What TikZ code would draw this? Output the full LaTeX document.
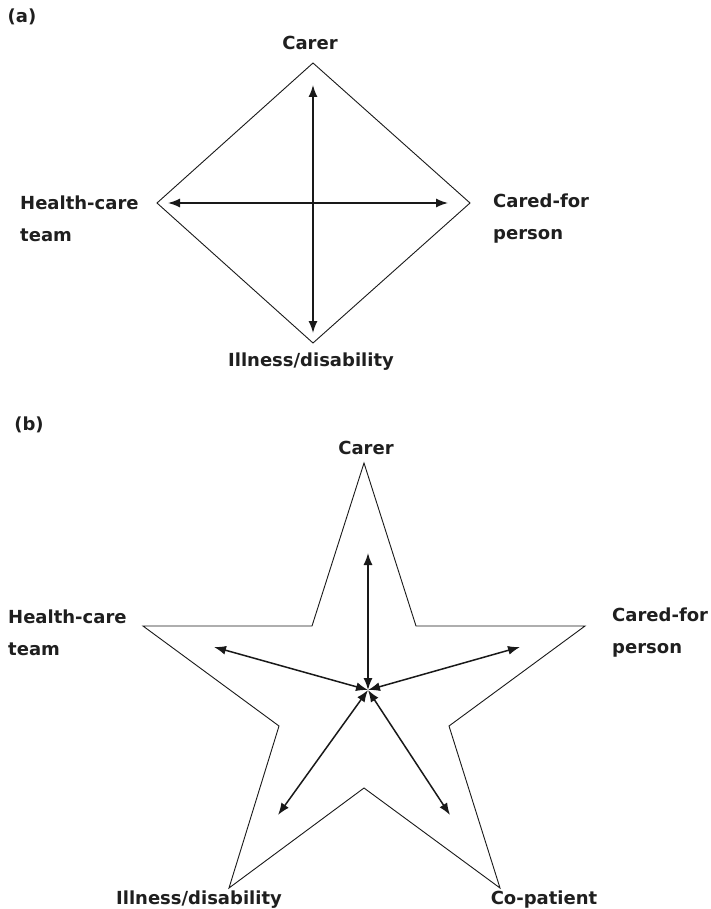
\documentclass[tikz,border=0pt]{standalone}
\usepackage{fontspec}
\setmainfont{DejaVu Sans}
\usetikzlibrary{arrows.meta}
\begin{document}
\begin{tikzpicture}[x=1pt,y=-1pt,
  lbl/.style={font=\fontsize{18}{32}\selectfont\bfseries, text=black!88, inner sep=0pt},
  outline/.style={draw=black!90, line width=0.9pt, line join=miter},
  link/.style={draw=black!90, line width=1.5pt, {Latex[length=12pt,width=9pt]}-{Latex[length=12pt,width=9pt]}}]
\useasboundingbox (0,0) rectangle (710,909);

% ---------- (a) ----------
\node[lbl] (pa) at (22,17) {(a)};
\node[lbl] (carerA) at (310,43) {Carer};
\node[lbl, anchor=west, align=left] (hctA) at (20,219) {Health-care\\team};
\node[lbl, anchor=west, align=left] (cfpA) at (493,219) {Cared-for\\person};
\node[lbl] (illA) at (311,362) {Illness/disability};

\draw[outline] (313,63) -- (470,203) -- (313,343) -- (157,203) -- cycle;

\coordinate (aT) at (313,85);
\coordinate (aB) at (313,333);
\coordinate (aL) at (168,203);
\coordinate (aR) at (448,203);
\draw[link] (aB) -- (aT);
\draw[link] (aL) -- (aR);

% ---------- (b) ----------
\node[lbl] (pb) at (29,425) {(b)};
\node[lbl] (carerB) at (366,448) {Carer};
\node[lbl, anchor=west, align=left] (hctB) at (8,633) {Health-care\\team};
\node[lbl, anchor=west, align=left] (cfpB) at (612,633) {Cared-for\\person};
\node[lbl] (illB) at (199,900) {Illness/disability};
\node[lbl] (coB) at (544,900) {Co-patient};

\draw[outline] (364,463) -- (416,626) -- (585,626) -- (449,726) -- (500,888)
  -- (364,788) -- (229,888) -- (279,726) -- (143,626) -- (312,626) -- cycle;

\coordinate (bC) at (368,690);
\coordinate (bT) at (368,553);
\coordinate (bL) at (214,647);
\coordinate (bR) at (520,647);
\coordinate (bBL) at (278,815);
\coordinate (bBR) at (450,815);
\draw[link] (bC) -- (bT);
\draw[link] (bC) -- (bL);
\draw[link] (bC) -- (bR);
\draw[link] (bC) -- (bBL);
\draw[link] (bC) -- (bBR);
\end{tikzpicture}
\end{document}
